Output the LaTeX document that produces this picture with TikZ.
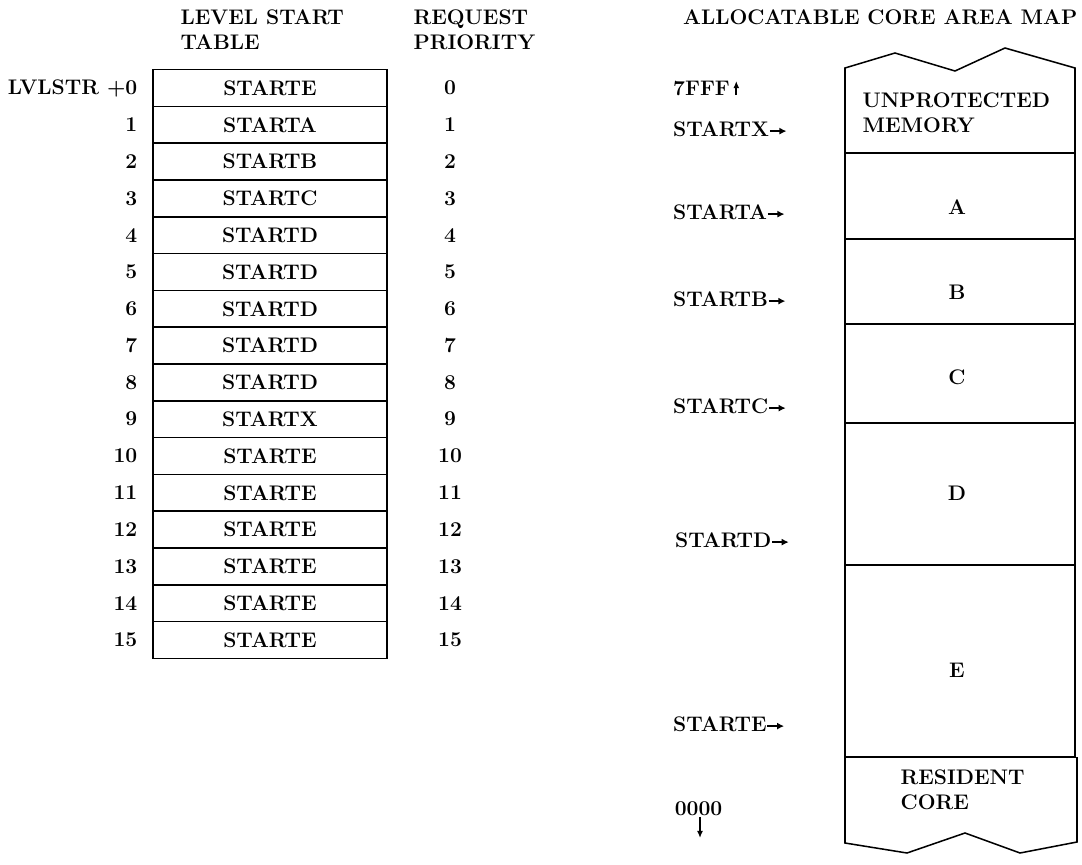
\documentclass[tikz,border=0pt]{standalone}
\usepackage{tikz}
\usetikzlibrary{arrows.meta,calc}

\newcommand{\rightarr}{\tikz[baseline=-0.55ex]\draw[line width=1.4pt,-{Latex[length=6pt,width=6pt]}] (0,0) -- (0.5cm,0);}
\newcommand{\uparr}{\tikz[baseline=0pt]\draw[line width=1.4pt,-{Latex[length=6pt,width=5pt]}] (0,0) -- (0,0.42cm);}

\begin{document}
\begin{tikzpicture}[x=0.03cm,y=-0.03cm,line width=1.3pt,font=\fontsize{18}{21.3}\selectfont\bfseries]
  \tikzset{cell/.style={draw,minimum width=7.02cm,minimum height=1.104cm,inner sep=0pt},
           lbl/.style={anchor=west,inner sep=0pt}}
  \useasboundingbox (0,0) rectangle (1082,865);

  % level start table
  \node[align=left,anchor=west] (hlst) at (176,30) {LEVEL START\\TABLE};
  \node[align=left,anchor=west] (hreq) at (409,30) {REQUEST\\PRIORITY};
  \foreach \t [count=\i from 0] in {STARTE,STARTA,STARTB,STARTC,STARTD,STARTD,STARTD,STARTD,STARTD,STARTX,STARTE,STARTE,STARTE,STARTE,STARTE,STARTE} {
    \node[cell] (row\i) at (270,88+36.8*\i) {\t};
    \node (pri\i) at (450,88+36.8*\i) {\i};
  }
  \node[anchor=east] (off0) at (142,88) {LVLSTR +0};
  \foreach \i in {1,...,15}
    \node[anchor=east] (off\i) at (142,88+36.8*\i) {\i};

  % allocatable core area map
  \node[anchor=east,inner sep=0pt] (title) at (1078,17) {ALLOCATABLE CORE AREA MAP};
  \draw (845,757) -- (845,68) -- (895,53) -- (955,71) -- (1005,48) -- (1075,68) -- (1075,757);
  \draw (845,757) -- (845,843) -- (907,853) -- (965,833) -- (1020,853) -- (1077,842) -- (1077,757);
  \foreach \y in {153,239,324,423,565,757}
    \draw (845,\y) -- (1076,\y);
  \node[align=left,anchor=west] (unprot) at (858,113) {UNPROTECTED\\MEMORY};
  \node (secA) at (957,207) {A};
  \node (secB) at (957,292) {B};
  \node (secC) at (957,377) {C};
  \node (secD) at (957,493) {D};
  \node (secE) at (957,670) {E};
  \node[align=left,anchor=west] (resid) at (896,790) {RESIDENT\\CORE};

  \node[lbl] (top) at (673,88) {7FFF\,\uparr};
  \node[lbl] (labX) at (673,129) {STARTX\rightarr};
  \node[lbl] (labA) at (673,212) {STARTA\rightarr};
  \node[lbl] (labB) at (673,299) {STARTB\rightarr};
  \node[lbl] (labC) at (673,406) {STARTC\rightarr};
  \node[lbl] (labD) at (675,540) {STARTD\rightarr};
  \node[lbl] (labE) at (673,724) {STARTE\rightarr};
  \node[lbl] (bottom) at (674,809) {0000};
  \coordinate (bdown) at (700,838);
  \draw[-{Latex[length=6pt,width=5pt]}] (bottom.south -| bdown) -- (bdown);
\end{tikzpicture}
\end{document}
